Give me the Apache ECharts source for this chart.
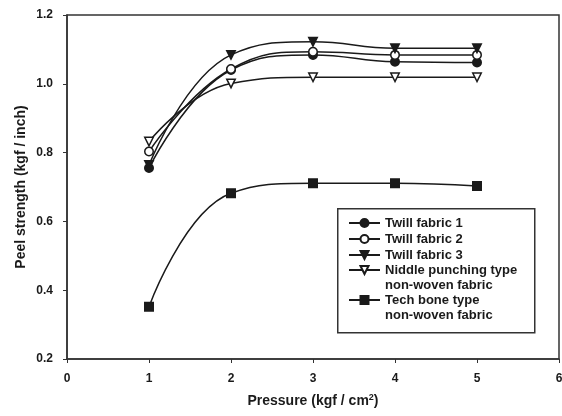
<!DOCTYPE html>
<html>
<head>
<meta charset="utf-8">
<script src="https://cdn.jsdelivr.net/npm/echarts@6/dist/echarts.min.js"></script>
<style>html,body{margin:0;padding:0;background:#fff}#c{width:562px;height:416px}</style>
</head>
<body>
<div id="c"></div>
<script>
const pressure = [1, 2, 3, 4, 5];
const twill1 = [0.755, 1.04, 1.084, 1.064, 1.062];
const twill2 = [0.803, 1.043, 1.093, 1.084, 1.084];
const twill3 = [0.764, 1.084, 1.122, 1.103, 1.103];
const niddle = [0.832, 1.001, 1.019, 1.019, 1.019];
const techBone = [0.352, 0.682, 0.711, 0.711, 0.703];
const seriesNames = ['Twill fabric 1', 'Twill fabric 2', 'Twill fabric 3',
  'Niddle punching type\nnon-woven fabric', 'Tech bone type\nnon-woven fabric'];
const yTicks = [0.2, 0.4, 0.6, 0.8, 1.0, 1.2];
const xTicks = [0, 1, 2, 3, 4, 5, 6];

const FONT = 'Liberation Sans, Arial, sans-serif';
const INK = '#1a1a1a';
function pts(arr) { return pressure.map((x, i) => [x, arr[i]]); }

const styles = [
  { symbol: 'circle', size: 8.5, fill: INK, rot: 0 },
  { symbol: 'circle', size: 8.5, fill: '#fff', rot: 0 },
  { symbol: 'triangle', size: 8.5, fill: INK, rot: 180 },
  { symbol: 'triangle', size: 8.5, fill: '#fff', rot: 180 },
  { symbol: 'rect', size: 8.5, fill: INK, rot: 0 }
];
const dataSets = [twill1, twill2, twill3, niddle, techBone];

const series = dataSets.map((d, i) => ({
  name: seriesNames[i],
  type: 'line',
  data: pts(d),
  smooth: 0.45,
  symbol: styles[i].symbol,
  symbolSize: styles[i].size,
  symbolRotate: styles[i].rot,
  lineStyle: { color: INK, width: 1.5 },
  itemStyle: { color: styles[i].fill, borderColor: INK, borderWidth: 1.5 },
  emphasis: { disabled: true },
  z: 3 + i
}));

const legendCenters = [223, 239, 255, 270, 300];
const txt = { fontFamily: FONT, fontWeight: 'bold', fontSize: 13, color: INK, lineHeight: 15.5 };
const legends = seriesNames.map((n, i) => {
  const twoLine = n.indexOf('\n') >= 0;
  return {
    data: [n],
    orient: 'vertical',
    left: 348,
    top: legendCenters[i] - (twoLine ? 23.25 : 7.75),
    padding: 0,
    itemWidth: 31,
    itemHeight: 10,
    selectedMode: false,
    formatter: twoLine
      ? (name => '{e| }\n' + name.split('\n').map(s => '{a|' + s + '}').join('\n'))
      : (name => name),
    textStyle: Object.assign({}, txt, {
      rich: {
        a: Object.assign({}, txt),
        e: Object.assign({}, txt, { lineHeight: 15.5, height: 15.5 })
      }
    })
  };
});

const chart = echarts.init(document.getElementById('c'), null, { renderer: 'canvas' });
chart.setOption({
  animation: false,
  backgroundColor: '#fff',
  grid: { left: 67, right: 3, top: 15, bottom: 57, show: true, borderColor: '#333', borderWidth: 1.5,
    outerBoundsMode: 'none', containLabel: false },
  xAxis: {
    type: 'value', min: xTicks[0], max: xTicks[xTicks.length - 1], interval: 1,
    name: 'Pressure (kgf / cm{sup|2})', nameLocation: 'middle', nameGap: 34, nameMoveOverlap: false,
    nameTextStyle: { fontFamily: FONT, fontWeight: 'bold', fontSize: 14, color: INK,
      rich: { sup: { fontFamily: FONT, fontWeight: 'bold', fontSize: 9, color: INK, verticalAlign: 'top', padding: [0, 0, 8, 0] } } },
    axisLine: { show: true, lineStyle: { color: '#333', width: 1.5 } },
    axisTick: { show: true, inside: false, length: 4, lineStyle: { color: '#333' } },
    axisLabel: { fontFamily: FONT, fontWeight: 'bold', fontSize: 12, color: INK, margin: 14 },
    splitLine: { show: false }
  },
  yAxis: {
    type: 'value', min: yTicks[0], max: yTicks[yTicks.length - 1], interval: 0.2,
    name: 'Peel strength (kgf / inch)', nameLocation: 'middle', nameGap: 39, nameMoveOverlap: false,
    nameTextStyle: { fontFamily: FONT, fontWeight: 'bold', fontSize: 14, color: INK },
    axisLine: { show: true, lineStyle: { color: '#333', width: 1.5 } },
    axisTick: { show: true, inside: false, length: 4, lineStyle: { color: '#333' } },
    axisLabel: { fontFamily: FONT, fontWeight: 'bold', fontSize: 12, color: INK, margin: 14,
      formatter: v => v.toFixed(1) },
    splitLine: { show: false }
  },
  legend: legends,
  graphic: [{
    type: 'rect', left: 337, top: 208, z: 1,
    shape: { width: 197, height: 124 },
    style: { fill: '#fff', stroke: '#333', lineWidth: 1.5 }
  }],
  series: series
});
</script>
</body>
</html>
